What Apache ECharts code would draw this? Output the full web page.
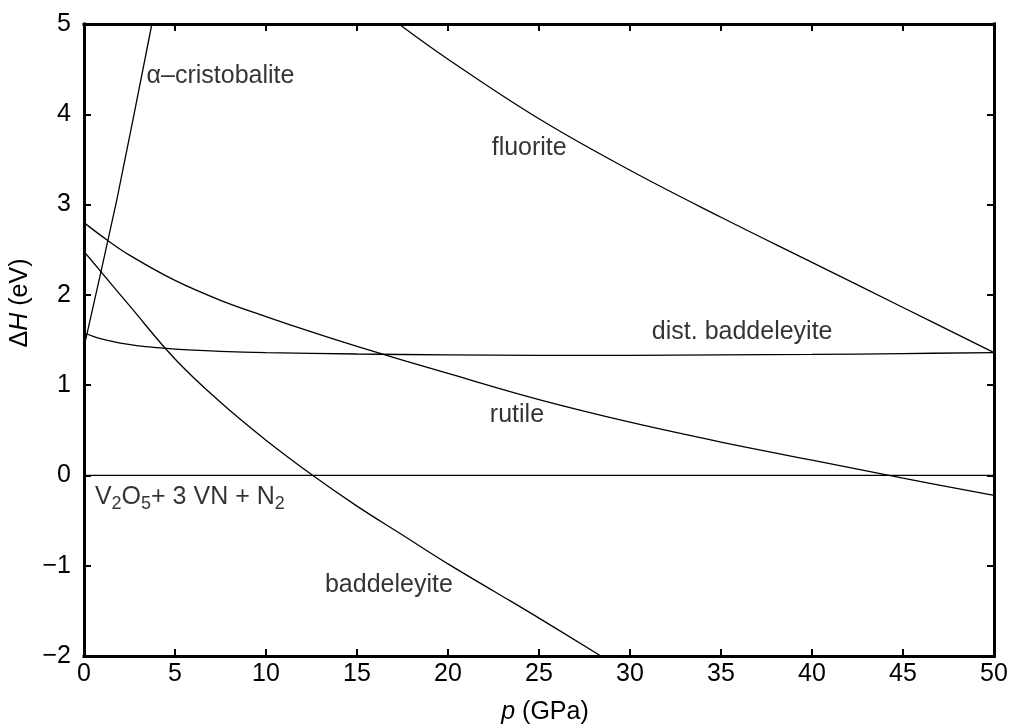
<!DOCTYPE html>
<html>
<head>
<meta charset="utf-8">
<script src="https://cdn.jsdelivr.net/npm/echarts@6/dist/echarts.min.js"></script>
<style>
  html, body { margin: 0; padding: 0; background: #fff; }
  #chart { width: 1013px; height: 726px; }
</style>
</head>
<body>
<div id="chart"></div>
<script>
// Enthalpy difference ΔH (eV) versus pressure p (GPa) for each structure.
const alphaCristobalite = [[0, 1.42], [1.8, 3.05], [3.73, 5.0]];
const fluorite = [[17.3, 5.0], [20, 4.61], [25, 3.95], [30, 3.38], [35, 2.86], [40, 2.36], [45, 1.86], [50, 1.36]];
const distBaddeleyite = [[0, 1.58], [0.5, 1.54], [1, 1.51], [2, 1.465], [3, 1.435], [4, 1.415], [5, 1.40],
  [7.5, 1.375], [10, 1.36], [15, 1.345], [20, 1.335], [25, 1.33], [30, 1.33], [35, 1.335], [40, 1.34], [45, 1.35], [50, 1.36]];
const rutile = [[0, 2.80], [1.25, 2.61], [2.5, 2.44], [5, 2.16], [7.5, 1.94], [10, 1.76], [12.5, 1.59], [15, 1.43],
  [20, 1.13], [25, 0.84], [30, 0.59], [35, 0.37], [40, 0.17], [45, -0.03], [50, -0.22]];
const baddeleyite = [[0, 2.48], [2.5, 1.88], [5, 1.29], [7.5, 0.81], [10, 0.39], [12.5, 0.01], [15, -0.34],
  [17.5, -0.66], [20, -0.98], [22.5, -1.28], [25, -1.58], [28.4, -2.0]];
const referenceLine = [[0, 0], [50, 0]];

// Axis ranges and tick steps
const pressureRange = [0, 50, 5];
const enthalpyRange = [-2, 5, 1];

// Curve names and where each one is written
const curveLabels = [
  { key: 'alpha', text: '{t|α–cristobalite}', at: [3.44, 4.42] },
  { key: 'fluorite', text: '{t|fluorite}', at: [22.4, 3.63] },
  { key: 'dist', text: '{t|dist. baddeleyite}', at: [31.2, 1.59] },
  { key: 'rutile', text: '{t|rutile}', at: [22.3, 0.67] },
  { key: 'badd', text: '{t|baddeleyite}', at: [13.24, -1.21] },
  { key: 'ref', text: '{t|V}{s|2}{t|O}{s|5}{t|+ 3 VN + N}{s|2}', at: [0.6, -0.24] }
];

const FONT = "'Liberation Sans', Arial, Helvetica, sans-serif";
const INK = '#000';

const chart = echarts.init(document.getElementById('chart'), null, { renderer: 'canvas' });

function curve(name, data, smooth) {
  return {
    name, type: 'line', data,
    xAxisIndex: 0, yAxisIndex: 0,
    showSymbol: false, symbol: 'none',
    smooth,
    lineStyle: { color: INK, width: 1.3 },
    silent: true, animation: false, clip: true
  };
}

const axisLine = { show: true, onZero: false, lineStyle: { color: INK, width: 3, cap: 'square' } };
const tick = { show: true, inside: true, length: 7, lineStyle: { color: INK, width: 2 } };

chart.setOption({
  animation: false,
  backgroundColor: '#fff',
  grid: { left: 84, right: 19, top: 24, bottom: 70, containLabel: false },
  xAxis: [
    {
      type: 'value', position: 'bottom',
      min: pressureRange[0], max: pressureRange[1], interval: pressureRange[2],
      axisLine, axisTick: tick, splitLine: { show: false },
      axisLabel: { color: INK, fontSize: 25, fontFamily: FONT, margin: 6 }
    },
    {
      type: 'value', position: 'top',
      min: pressureRange[0], max: pressureRange[1], interval: pressureRange[2],
      axisLine, axisTick: tick, splitLine: { show: false }, axisLabel: { show: false }
    }
  ],
  yAxis: [
    {
      type: 'value', position: 'left',
      min: enthalpyRange[0], max: enthalpyRange[1], interval: enthalpyRange[2],
      axisLine, axisTick: tick, splitLine: { show: false },
      axisLabel: {
        color: INK, fontSize: 25, fontFamily: FONT, margin: 13,
        formatter: v => (v < 0 ? '\u2212' + Math.abs(v) : String(v))
      }
    },
    {
      type: 'value', position: 'right',
      min: enthalpyRange[0], max: enthalpyRange[1], interval: enthalpyRange[2],
      axisLine, axisTick: tick, splitLine: { show: false }, axisLabel: { show: false }
    }
  ],
  graphic: [
    {
      type: 'text', x: 545, y: 712,
      style: {
        text: '{i|p}{n| (GPa)}', align: 'center', verticalAlign: 'middle',
        rich: {
          i: { fontSize: 25, fontFamily: FONT, fontStyle: 'italic', fill: INK },
          n: { fontSize: 25, fontFamily: FONT, fill: INK }
        }
      }
    },
    {
      type: 'text', x: 20, y: 303, rotation: Math.PI / 2,
      style: {
        text: '{n|Δ}{i|H}{n| (eV)}', align: 'center', verticalAlign: 'middle',
        rich: {
          i: { fontSize: 25, fontFamily: FONT, fontStyle: 'italic', fill: INK },
          n: { fontSize: 25, fontFamily: FONT, fill: INK }
        }
      }
    }
  ],
  series: [
    curve('reference', referenceLine, false),
    curve('α-cristobalite', alphaCristobalite, 0.2),
    curve('fluorite', fluorite, 0.4),
    curve('dist. baddeleyite', distBaddeleyite, 0.4),
    curve('rutile', rutile, 0.4),
    curve('baddeleyite', baddeleyite, 0.4),
    {
      name: 'labels', type: 'scatter', symbolSize: 0, silent: true, animation: false,
      data: curveLabels.map(l => ({ name: l.key, value: l.at, text: l.text })),
      label: {
        show: true, position: 'right', distance: 0, color: INK,
        formatter: p => p.data.text,
        rich: {
          t: { fontSize: 25, fontFamily: FONT, color: INK, lineHeight: 32 },
          s: { fontSize: 18, fontFamily: FONT, color: INK, lineHeight: 18, verticalAlign: 'bottom' }
        }
      }
    }
  ]
});
</script>
</body>
</html>
